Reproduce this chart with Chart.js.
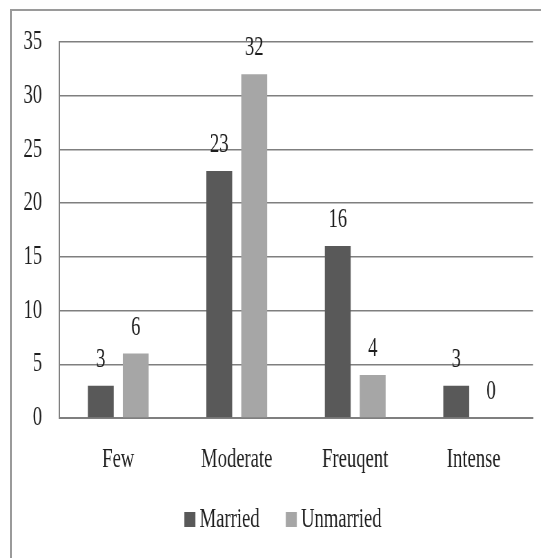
<!DOCTYPE html>
<html>
<head>
<meta charset="utf-8">
<script src="https://cdn.jsdelivr.net/npm/chart.js@4/dist/chart.umd.min.js"></script>
<style>
  html, body { margin: 0; padding: 0; background: #fff; overflow: hidden; }
  #frame {
    position: absolute; left: 10px; top: 9px; right: 0; bottom: 0;
    border-top: 2px solid #9a9a9a; border-left: 2px solid #9a9a9a;
  }
  #wrap {
    position: absolute; left: 0; top: 0; height: 558px;
    transform-origin: 0 0;
  }
</style>
</head>
<body>
<div id="frame"></div>
<div id="wrap"><canvas id="c"></canvas></div>
<script>
// Survey counts by intensity and marital status
const categories = ['Few', 'Moderate', 'Freuqent', 'Intense'];
const married = [3, 23, 16, 3];
const unmarried = [6, 32, 4, 0];
const seriesNames = ['Married', 'Unmarried'];
const yTicks = [0, 5, 10, 15, 20, 25, 30, 35];

// Narrow, tall lettering: the chart is laid out wide and squeezed horizontally.
const SX = 0.69;
const W = 541 / SX;
const wrap = document.getElementById('wrap');
wrap.style.width = W + 'px';
wrap.style.transform = 'scaleX(' + SX + ')';

const FONT = 'Liberation Serif';
const FS = 27;
const TEXT = '#1e1e1e';
const GRID = '#7f7f7f';

// Value labels above each bar
const valueLabels = {
  id: 'valueLabels',
  afterDatasetsDraw(chart) {
    const ctx = chart.ctx;
    ctx.save();
    ctx.font = FS + 'px "' + FONT + '"';
    ctx.fillStyle = TEXT;
    ctx.textAlign = 'center';
    ctx.textBaseline = 'alphabetic';
    chart.data.datasets.forEach((ds, i) => {
      chart.getDatasetMeta(i).data.forEach((bar, j) => {
        ctx.fillText(String(ds.data[j]), bar.x, bar.y - 19);
      });
    });
    ctx.restore();
  }
};

// Legend row under the axis labels
const bottomLegend = {
  id: 'bottomLegend',
  afterDraw(chart) {
    const ctx = chart.ctx;
    ctx.save();
    ctx.font = FS + 'px "' + FONT + '"';
    const boxW = 16, boxH = 15, textGap = 6, itemGap = 38;
    const items = chart.data.datasets.map(ds => ({
      label: ds.label, color: ds.backgroundColor, w: ctx.measureText(ds.label).width
    }));
    const total = items.reduce((s, it) => s + boxW + textGap + it.w, 0) + itemGap * (items.length - 1);
    const cx = 283 / SX;
    const baseY = 527;
    let x = cx - total / 2;
    items.forEach(it => {
      ctx.fillStyle = it.color;
      ctx.fillRect(x, baseY - boxH, boxW, boxH);
      x += boxW + textGap;
      ctx.fillStyle = TEXT;
      ctx.textAlign = 'left';
      ctx.textBaseline = 'alphabetic';
      ctx.fillText(it.label, x, baseY);
      x += it.w + itemGap;
    });
    ctx.restore();
  }
};

new Chart(document.getElementById('c'), {
  type: 'bar',
  data: {
    labels: categories,
    datasets: [
      { label: seriesNames[0], data: married, backgroundColor: '#595959' },
      { label: seriesNames[1], data: unmarried, backgroundColor: '#a6a6a6' }
    ]
  },
  options: {
    responsive: true,
    maintainAspectRatio: false,
    animation: false,
    devicePixelRatio: 1,
    categoryPercentage: 0.59,
    barPercentage: 0.74,
    layout: { padding: { top: 42, right: W - 533 / SX, bottom: 0, left: 0 } },
    plugins: {
      legend: { display: false },
      tooltip: { enabled: false }
    },
    scales: {
      x: {
        grid: { display: false, drawTicks: false },
        border: { display: true, color: GRID, width: 2 },
        ticks: { color: TEXT, font: { family: FONT, size: FS }, padding: 26, maxRotation: 0 },
        afterFit(s) { s.height = 140; }
      },
      y: {
        min: 0,
        max: 35,
        afterBuildTicks(s) { s.ticks = yTicks.map(v => ({ value: v })); },
        grid: { color: GRID, lineWidth: 1.5, drawTicks: false },
        border: { display: true, color: GRID, width: 2 },
        ticks: { color: TEXT, font: { family: FONT, size: FS }, padding: 24.6 },
        afterFit(s) { s.width = 59 / SX; }
      }
    }
  },
  plugins: [valueLabels, bottomLegend]
});
</script>
</body>
</html>
